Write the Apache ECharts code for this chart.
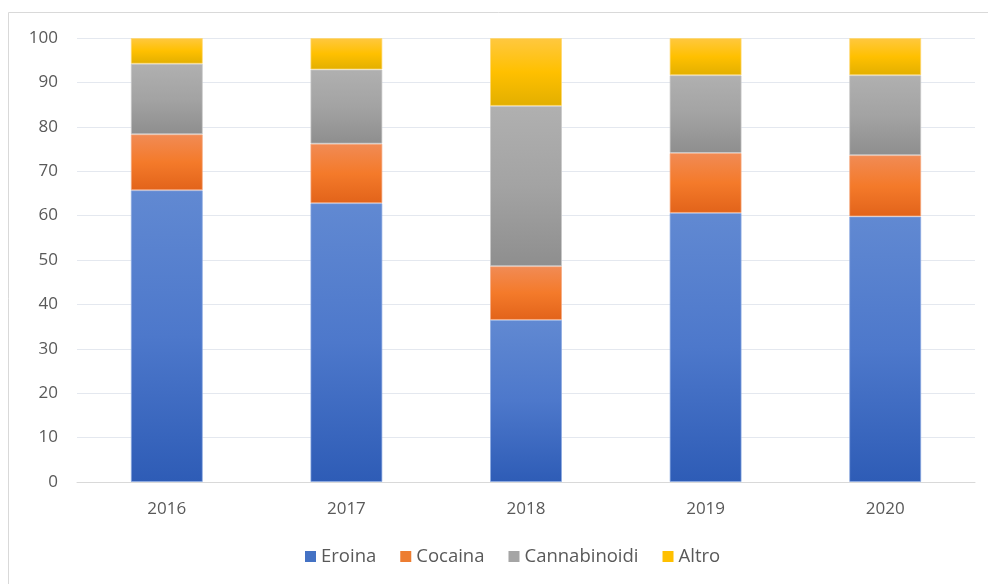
<!DOCTYPE html>
<html>
<head>
<meta charset="utf-8">
<script src="https://cdn.jsdelivr.net/npm/echarts@6/dist/echarts.min.js"></script>
<style>
html,body{margin:0;padding:0;background:#fff;}
#chart{width:988px;height:584px;}
</style>
</head>
<body>
<div id="chart"></div>
<script>
const categories = ['2016', '2017', '2018', '2019', '2020'];
const eroina = [65.7, 62.8, 36.5, 60.6, 59.8];
const cocaina = [12.6, 13.4, 12.1, 13.5, 13.8];
const cannabinoidi = [15.9, 16.7, 36.1, 17.5, 18.0];
const altro = [5.8, 7.1, 15.3, 8.4, 8.4];

function grad(top, mid, bottom) {
  return new echarts.graphic.LinearGradient(0, 0, 0, 1, [
    {offset: 0, color: top},
    {offset: 0.5, color: mid},
    {offset: 1, color: bottom}
  ]);
}
const FONT = '"Open Sans", "Noto Sans", sans-serif';
const chart = echarts.init(document.getElementById('chart'));
function mk(name, data, fill, border) {
  return {
    name: name, type: 'bar', stack: 'tot', data: data, barWidth: 72,
    itemStyle: {color: fill, borderColor: border, borderWidth: 1},
    emphasis: {disabled: true}
  };
}
chart.setOption({
  animation: false,
  graphic: [{type: 'rect', shape: {x: 8.5, y: 12.5, width: 1000, height: 600},
    style: {fill: 'none', stroke: '#D9D9D9', lineWidth: 1}, silent: true}],
  color: ['#4472C4', '#ED7D31', '#A5A5A5', '#FFC000'],
  grid: {left: 77, right: 13, top: 38, bottom: 102},
  legend: {
    bottom: 13, left: 300, itemWidth: 11, itemHeight: 11, itemGap: 24,
    icon: 'rect',
    textStyle: {color: '#595959', fontSize: 18.5, fontFamily: FONT},
    data: [
      {name: 'Eroina', itemStyle: {color: '#4472C4', borderWidth: 0}},
      {name: 'Cocaina', itemStyle: {color: '#ED7D31', borderWidth: 0}},
      {name: 'Cannabinoidi', itemStyle: {color: '#A5A5A5', borderWidth: 0}},
      {name: 'Altro', itemStyle: {color: '#FFC000', borderWidth: 0}}
    ]
  },
  xAxis: {
    type: 'category', data: categories,
    axisLine: {lineStyle: {color: '#D9D9D9', width: 1}},
    axisTick: {show: false},
    axisLabel: {color: '#595959', fontSize: 17, fontFamily: FONT, margin: 19}
  },
  yAxis: {
    type: 'value', min: 0, max: 100, interval: 10,
    axisLine: {show: false}, axisTick: {show: false},
    axisLabel: {color: '#595959', fontSize: 17, fontFamily: FONT, margin: 19},
    splitLine: {lineStyle: {color: '#E4E8EF', width: 1}}
  },
  series: [
    mk('Eroina', eroina, grad('#6189D2', '#4D78CB', '#2E5CB6'), 'rgba(140,170,225,0.7)'),
    mk('Cocaina', cocaina, grad('#F18B55', '#F47A2A', '#E2631A'), 'rgba(245,170,130,0.7)'),
    mk('Cannabinoidi', cannabinoidi, grad('#B0B0B0', '#A3A3A3', '#8E8E8E'), 'rgba(200,200,200,0.7)'),
    mk('Altro', altro, grad('#FFC840', '#FFC000', '#E2AF00'), 'rgba(255,215,110,0.7)')
  ]
});
</script>
</body>
</html>
